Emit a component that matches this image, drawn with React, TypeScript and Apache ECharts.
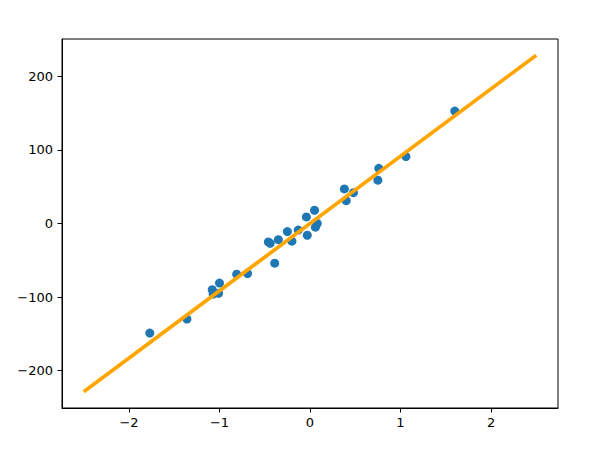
import React, { useEffect, useRef } from "react";
import * as echarts from "echarts";

const pointsX = [-1.77, -1.36, -1.0, -1.08, -1.07, -1.01, -0.81, -0.69, -0.39, -0.46, -0.44, -0.35, -0.25, -0.2, -0.13, -0.04, -0.03, 0.05, 0.06, 0.08, 0.38, 0.48, 0.4, 0.76, 0.75, 1.06, 1.6];
const pointsY = [-149, -130, -81, -90, -96, -95, -69, -68, -54, -25, -27, -22, -11, -24, -9, 9, -16, 18, -5, 0, 47, 42, 31, 75, 59, 91, 153];
const lineX = [-2.5, 2.5];
const lineY = [-229, 229];
const xTicks = [-2, -1, 0, 1, 2];
const yTicks = [-200, -100, 0, 100, 200];

const fmt = (v: number) => (v < 0 ? "\u2212" + Math.abs(v) : String(v));

export default function App() {
  const ref = useRef<HTMLDivElement>(null);
  useEffect(() => {
    const chart = echarts.init(ref.current!, null, { renderer: "svg" });
    const axisCommon = {
      type: "value" as const,
      splitLine: { show: false },
      axisLine: { show: true, onZero: false, lineStyle: { color: "#000", width: 1 } },
      axisTick: { show: true, length: 4.5, lineStyle: { color: "#000", width: 1 } },
      axisLabel: {
        color: "#000",
        fontFamily: "DejaVu Sans",
        fontSize: 13,
        formatter: (v: number) => fmt(v),
      },
    };
    chart.setOption({
      animation: false,
      backgroundColor: "#fff",
      grid: {
        left: 62,
        right: 36,
        top: 39,
        bottom: 42,
        show: true,
        borderColor: "#000",
        borderWidth: 1,
        backgroundColor: "transparent",
      },
      xAxis: {
        ...axisCommon,
        min: -2.74,
        max: 2.74,
        axisTick: { ...axisCommon.axisTick, customValues: xTicks },
        axisLabel: { ...axisCommon.axisLabel, margin: 8, customValues: xTicks },
      },
      yAxis: {
        ...axisCommon,
        min: -251,
        max: 251,
        axisTick: { ...axisCommon.axisTick, customValues: yTicks },
        axisLabel: { ...axisCommon.axisLabel, margin: 9, customValues: yTicks },
      },
      series: [
        {
          type: "scatter",
          data: pointsX.map((x, i) => [x, pointsY[i]]),
          symbolSize: 9,
          itemStyle: { color: "#1f77b4", opacity: 1 },
          z: 2,
        },
        {
          type: "line",
          data: lineX.map((x, i) => [x, lineY[i]]),
          showSymbol: false,
          symbol: "none",
          lineStyle: { color: "#ffa500", width: 3.7 },
          z: 3,
        },
      ],
    });
    return () => chart.dispose();
  }, []);
  return <div ref={ref} style={{ width: 594, height: 450, position: "absolute", left: 0, top: 0 }} />;
}
